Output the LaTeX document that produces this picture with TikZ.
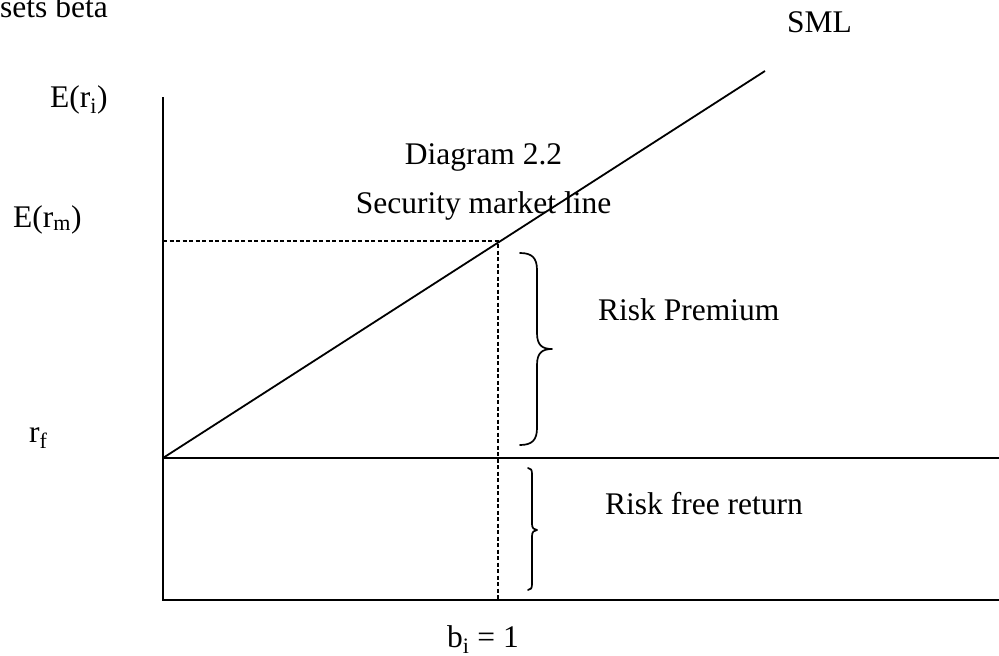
\documentclass[tikz,border=0pt]{standalone}
\usepackage{fontspec}
\setmainfont{Liberation Serif}
\begin{document}
\begin{tikzpicture}[x=1pt,y=-1pt,
  lbl/.style={inner sep=0pt,font=\fontsize{31.5}{36}\selectfont},
  axisline/.style={line width=1.8pt},
  guide/.style={line width=1.7pt,dash pattern=on 4pt off 2.5pt},
  bracket/.style={line width=1.7pt,line join=round,line cap=round}]
\useasboundingbox (0,0) rectangle (999,656);

% axes and reference points
\coordinate (top) at (163,97);
\coordinate (origin) at (163,600);
\coordinate (xend) at (999,600);
\coordinate (rf0) at (163,458);
\coordinate (rf1) at (999,458);
\coordinate (smlend) at (765,71);
\coordinate (mkt) at (498,241);
\coordinate (mktaxis) at (163,241);
\coordinate (mktfoot) at (498,600);

\draw[axisline] (top) -- (origin) -- (xend);
\draw[axisline] (rf0) -- (rf1);
\draw[axisline] (rf0) -- (smlend);
\draw[guide] (mktaxis) -- (mkt) -- (mktfoot);

% risk premium brace
\draw[bracket] (520,253) .. controls (532,253) and (537,258) .. (537,270)
  -- (537,333) .. controls (537,345) and (542,349) .. (552,349)
  .. controls (542,349) and (537,353) .. (537,365)
  -- (537,428) .. controls (537,440) and (532,445) .. (520,445);

% risk free brace
\draw[bracket] (528,468) .. controls (531,468) and (532,470) .. (532,474)
  -- (532,524) .. controls (532,528) and (534,530) .. (537,530)
  .. controls (534,530) and (532,532) .. (532,536)
  -- (532,584) .. controls (532,588) and (531,590) .. (528,590);

% labels
\node[lbl,anchor=base west] (setsbeta) at (0,17) {sets beta};
\node[lbl,anchor=base] (sml) at (819.5,32) {SML};
\node[lbl,anchor=base west] (eri) at (50,107) {E(r\textsubscript{i})};
\node[lbl,anchor=base west] (erm) at (13,227) {E(r\textsubscript{m})};
\node[lbl,anchor=base west] (rf) at (29,442) {r\textsubscript{f}};
\node[lbl,anchor=base] (title) at (483.5,164) {Diagram 2.2};
\node[lbl,anchor=base] (subtitle) at (483.5,213) {Security market line};
\node[lbl,anchor=base west] (premium) at (598,320) {Risk Premium};
\node[lbl,anchor=base west] (riskfree) at (605,514) {Risk free return};
\node[lbl,anchor=base west] (beta) at (447,647) {b\textsubscript{i} = 1};
\end{tikzpicture}
\end{document}
